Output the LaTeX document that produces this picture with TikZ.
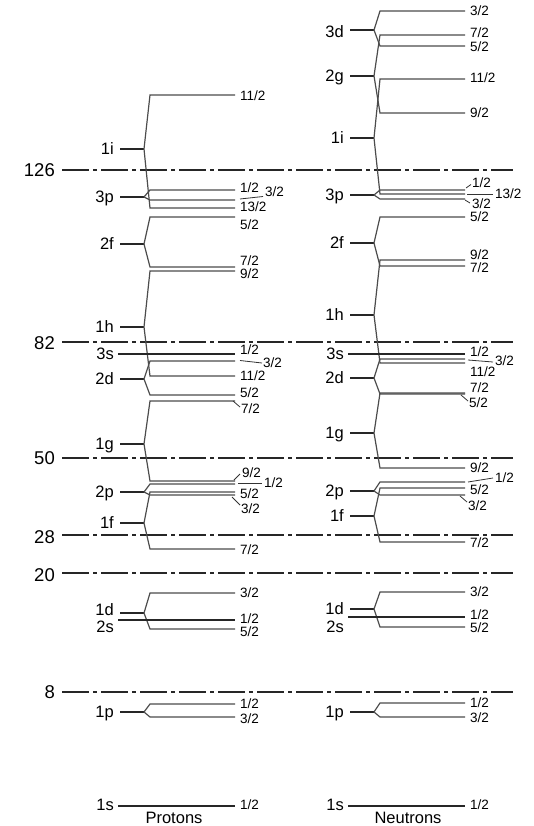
\documentclass[tikz,border=0pt]{standalone}
\usepackage{fontspec}
\setmainfont{Liberation Sans}
% orbital with a stub: id, text, label y, stub y
\newcommand\orb[4]{\node[lvl] (#1) at (114,#3) {#2};\coordinate (#1a) at (120,#4);\coordinate (#1b) at (144,#4);\draw[stubline] (#1a) -- (#1b);}
% split level with label: parent id, sub id, level y, text, label y
\newcommand\spl[5]{\coordinate (#1#2s) at (150,#3);\coordinate (#1#2e) at (235,#3);\draw[levline] (#1b) -- (#1#2s) -- (#1#2e);\node[frac] (#1#2t) at (240,#5) {#4};}
% split level without label
\newcommand\spn[3]{\coordinate (#1#2s) at (150,#3);\coordinate (#1#2e) at (235,#3);\draw[levline] (#1b) -- (#1#2s) -- (#1#2e);}
% single unsplit level: id, text, label y, line y, fraction label y
\newcommand\sing[5]{\node[lvl] (#1) at (114,#3) {#2};\coordinate (#1a) at (118,#4);\coordinate (#1e) at (235,#4);\draw[stubline] (#1a) -- (#1e);\node[frac] (#1t) at (240,#5) {1/2};}
% leader with label: id, x1,y1,x2,y2, label x, label y, text
\newcommand\ldr[8]{\coordinate (#1p) at (#2,#3);\coordinate (#1q) at (#4,#5);\draw[leader] (#1p) -- (#1q);\node[frac] (#1t) at (#6,#7) {#8};}
\begin{document}
\begin{tikzpicture}[x=1pt,y=-1pt,
  lvl/.style={anchor=base east,inner sep=0pt,font=\fontsize{16.5}{18}\selectfont,yshift=-5.9pt},
  frac/.style={anchor=base west,inner sep=0pt,font=\fontsize{13.5}{15}\selectfont,yshift=-4.8pt},
  magic/.style={anchor=base east,inner sep=0pt,font=\fontsize{18.5}{20}\selectfont,yshift=-6.6pt},
  nuc/.style={anchor=base,inner sep=0pt,font=\fontsize{16.5}{18}\selectfont},
  stubline/.style={line width=1.1pt,black!85},
  levline/.style={line width=1.2pt,black!70},
  leader/.style={line width=0.8pt,black!80},
  shell/.style={line width=1.1pt,black!85,dash pattern=on 27pt off 4pt on 4pt off 4pt}]
\useasboundingbox (0,0) rectangle (533,826);
% magic numbers
\foreach \m/\y/\ly in {126/170/170,82/342/343,50/458/458,28/535/537,20/573/575,8/692/692}{
  \node[magic] (m\m) at (55,\ly) {\m};
  \coordinate (m\m a) at (62,\y);
  \coordinate (m\m b) at (513,\y);
  \draw[shell] (m\m a) -- (m\m b);
}
% ---------------- Protons ----------------
\begin{scope}
\orb{p1i}{1i}{149}{149}
\spl{p1i}{u}{95}{11/2}{96}
\spl{p1i}{d}{208}{13/2}{207}
\orb{p3p}{3p}{197}{197}
\spl{p3p}{u}{190}{1/2}{188}
\spn{p3p}{d}{200}
\ldr{pa}{240}{199}{263}{196.5}{265}{192}{3/2}
\orb{p2f}{2f}{244}{244}
\spl{p2f}{u}{217}{5/2}{225}
\spl{p2f}{d}{267}{7/2}{261}
\orb{p1h}{1h}{327}{327}
\spl{p1h}{u}{271}{9/2}{274}
\spl{p1h}{d}{376}{11/2}{376}
\sing{p3s}{3s}{354}{354}{350}
\orb{p2d}{2d}{379}{379}
\spn{p2d}{u}{361}
\ldr{pb}{240}{360.5}{262}{363}{263}{363}{3/2}
\spl{p2d}{d}{395}{5/2}{393}
\orb{p1g}{1g}{444}{444}
\spn{p1g}{u}{401}
\ldr{pc}{233}{401}{240}{407}{241}{409}{7/2}
\spn{p1g}{d}{481}
\ldr{pd}{234}{480}{240}{474}{242}{473}{9/2}
\orb{p2p}{2p}{492}{492}
\spn{p2p}{u}{484}
\ldr{pe}{238}{483}{262}{483}{264}{483}{1/2}
\spn{p2p}{d}{495}
\ldr{pf}{232}{497}{240}{505}{241}{509}{3/2}
\orb{p1f}{1f}{523}{523}
\spl{p1f}{u}{492}{5/2}{494}
\spl{p1f}{d}{549}{7/2}{550}
\orb{p1d}{1d}{609.5}{613}
\spl{p1d}{u}{593}{3/2}{593}
\spl{p1d}{d}{629}{5/2}{632}
\sing{p2s}{2s}{626.5}{620}{619}
\orb{p1p}{1p}{712}{712}
\spl{p1p}{u}{704}{1/2}{704}
\spl{p1p}{d}{717}{3/2}{719}
\sing{p1s}{1s}{805}{806}{805}
\node[nuc] (prot) at (174,823.5) {Protons};
\end{scope}
% ---------------- Neutrons ----------------
\begin{scope}[shift={(230,0)}]
\orb{n3d}{3d}{32}{30}
\spl{n3d}{u}{11}{3/2}{11}
\spl{n3d}{d}{46}{5/2}{47}
\orb{n2g}{2g}{76}{76}
\spl{n2g}{u}{35}{7/2}{33}
\spl{n2g}{d}{113}{9/2}{113}
\orb{n1i}{1i}{138}{138}
\spl{n1i}{u}{79}{11/2}{78}
\spn{n1i}{d}{194}
\ldr{na}{237}{194}{263}{194}{265}{194}{13/2}
\orb{n3p}{3p}{195}{195}
\spn{n3p}{u}{190}
\ldr{nb}{236}{188}{241}{184.5}{242}{183}{1/2}
\spn{n3p}{d}{199}
\ldr{nc}{235}{200}{240}{203}{242}{204}{3/2}
\orb{n2f}{2f}{243}{243}
\spl{n2f}{u}{217}{5/2}{217}
\spl{n2f}{d}{266}{7/2}{268}
\orb{n1h}{1h}{315}{315}
\spl{n1h}{u}{260}{9/2}{255}
\spl{n1h}{d}{363}{11/2}{372}
\sing{n3s}{3s}{354}{354}{352}
\orb{n2d}{2d}{378}{378}
\spn{n2d}{u}{359}
\ldr{nd}{238}{360}{263}{362}{265}{361}{3/2}
\spn{n2d}{d}{394}
\ldr{ne}{231}{395}{238}{401}{239}{403}{5/2}
\orb{n1g}{1g}{433}{433}
\spl{n1g}{u}{393}{7/2}{388}
\spl{n1g}{d}{468}{9/2}{468}
\orb{n2p}{2p}{491}{491}
\spn{n2p}{u}{482}
\ldr{nf}{238}{482}{263}{478}{265}{478}{1/2}
\spn{n2p}{d}{495}
\ldr{ng}{230}{496}{237}{502}{238}{506}{3/2}
\orb{n1f}{1f}{516}{516}
\spl{n1f}{u}{488}{5/2}{490}
\spl{n1f}{d}{542}{7/2}{543}
\orb{n1d}{1d}{608.5}{609}
\spl{n1d}{u}{592}{3/2}{592}
\spl{n1d}{d}{627}{5/2}{628}
\sing{n2s}{2s}{626.5}{617}{615}
\orb{n1p}{1p}{712}{712}
\spl{n1p}{u}{703}{1/2}{703}
\spl{n1p}{d}{717}{3/2}{718}
\sing{n1s}{1s}{805}{806}{805}
\node[nuc] (neut) at (178,823.5) {Neutrons};
\end{scope}
\end{tikzpicture}
\end{document}
